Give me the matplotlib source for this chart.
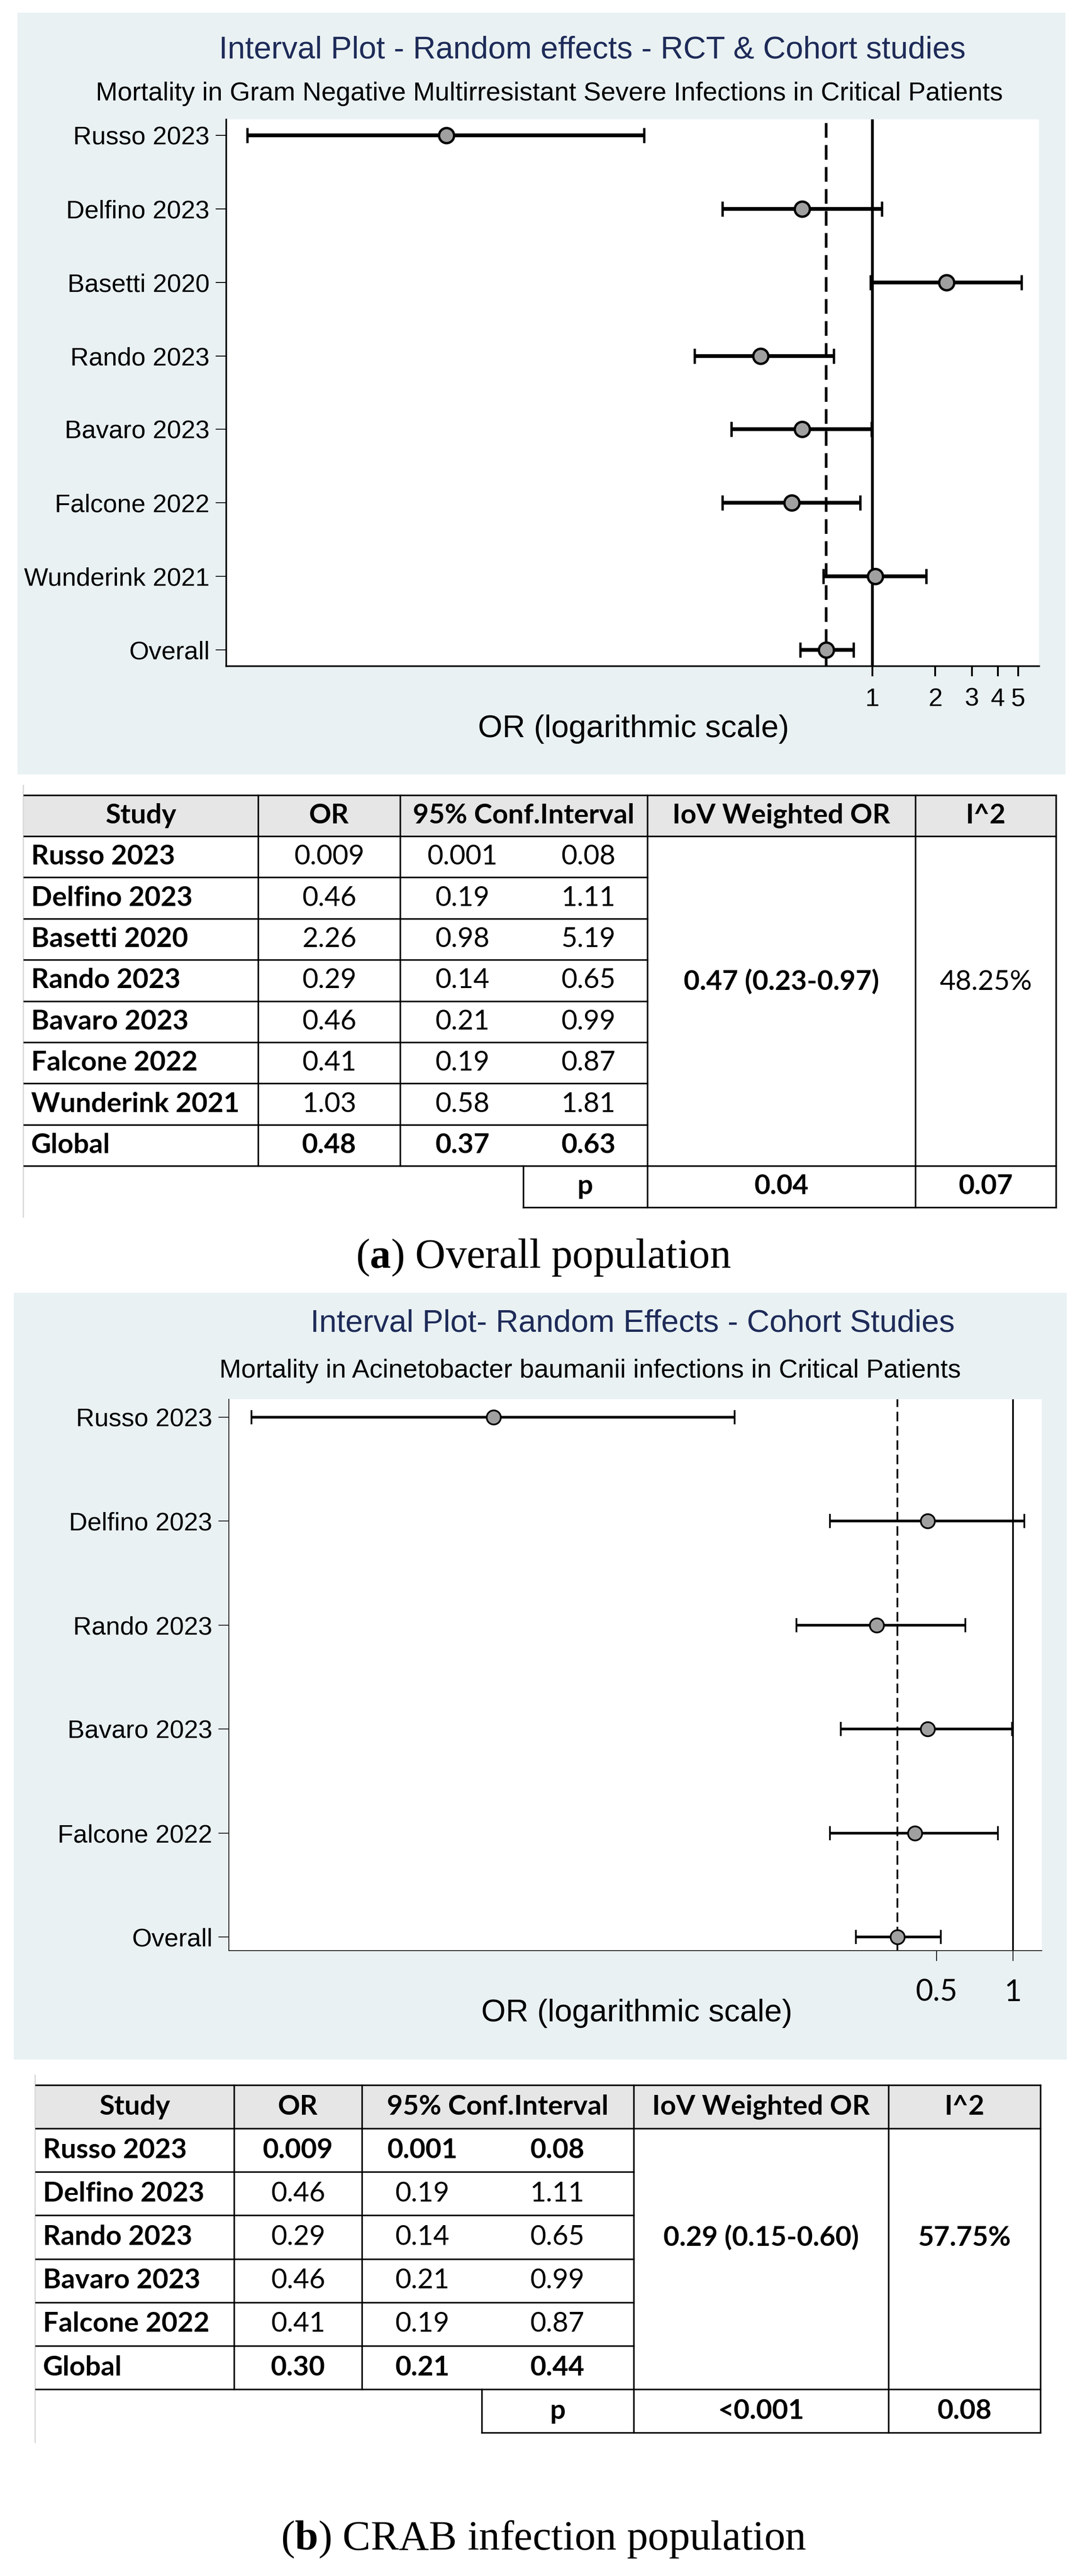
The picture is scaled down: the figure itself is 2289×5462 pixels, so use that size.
import numpy as np
import matplotlib
matplotlib.use('Agg')
import matplotlib.pyplot as plt
from matplotlib.patches import Rectangle
from matplotlib.ticker import NullLocator

plt.rcParams['mathtext.fontset'] = 'custom'
plt.rcParams['mathtext.rm'] = 'Liberation Serif'
plt.rcParams['mathtext.bf'] = 'Liberation Serif:bold'

# ---------------- data ----------------
# Panel (a) interval plot
labels_a = ['Russo 2023', 'Delfino 2023', 'Basetti 2020', 'Rando 2023',
            'Bavaro 2023', 'Falcone 2022', 'Wunderink 2021', 'Overall']
or_a = [0.009, 0.46, 2.26, 0.29, 0.46, 0.41, 1.03, 0.60]
lo_a = [0.001, 0.19, 0.98, 0.14, 0.21, 0.19, 0.58, 0.45]
hi_a = [0.08, 1.11, 5.19, 0.65, 0.99, 0.87, 1.81, 0.81]
xticks_a = [1, 2, 3, 4, 5]
xticklabels_a = ['1', '2', '3', '4', '5']

# Panel (b) interval plot
labels_b = ['Russo 2023', 'Delfino 2023', 'Rando 2023', 'Bavaro 2023',
            'Falcone 2022', 'Overall']
or_b = [0.009, 0.46, 0.29, 0.46, 0.41, 0.35]
lo_b = [0.001, 0.19, 0.14, 0.21, 0.19, 0.24]
hi_b = [0.08, 1.11, 0.65, 0.99, 0.87, 0.52]
xticks_b = [0.5, 1]
xticklabels_b = ['0.5', '1']

# Table (a)
tab_header = ['Study', 'OR', '95% Conf.Interval', 'IoV Weighted OR', 'I^2']
tab_a_study = ['Russo 2023', 'Delfino 2023', 'Basetti 2020', 'Rando 2023',
               'Bavaro 2023', 'Falcone 2022', 'Wunderink 2021', 'Global']
tab_a_or = ['0.009', '0.46', '2.26', '0.29', '0.46', '0.41', '1.03', '0.48']
tab_a_lo = ['0.001', '0.19', '0.98', '0.14', '0.21', '0.19', '0.58', '0.37']
tab_a_hi = ['0.08', '1.11', '5.19', '0.65', '0.99', '0.87', '1.81', '0.63']
tab_a_bold = [False] * 7 + [True]
tab_a_iov = '0.47 (0.23-0.97)'
tab_a_i2 = '48.25%'
tab_a_p = ['p', '0.04', '0.07']

# Table (b)
tab_b_study = ['Russo 2023', 'Delfino 2023', 'Rando 2023', 'Bavaro 2023',
               'Falcone 2022', 'Global']
tab_b_or = ['0.009', '0.46', '0.29', '0.46', '0.41', '0.30']
tab_b_lo = ['0.001', '0.19', '0.14', '0.21', '0.19', '0.21']
tab_b_hi = ['0.08', '1.11', '0.65', '0.99', '0.87', '0.44']
tab_b_bold = [True, False, False, False, False, True]
tab_b_iov = '0.29 (0.15-0.60)'
tab_b_i2 = '57.75%'
tab_b_p = ['p', '<0.001', '0.08']

# ---------------- figure ----------------
W, H = 2289, 5462
fig = plt.figure(figsize=(W / 100, H / 100), dpi=100)
fig.patch.set_facecolor('white')
ov = fig.add_axes([0, 0, 1, 1], zorder=-1)
ov.set_xlim(0, W)
ov.set_ylim(H, 0)
ov.axis('off')

BG = '#e9f1f3'
TITLE_C = '#1e2b58'
SANS = 'Liberation Sans'
TAB = 'Lato'
SERIF = 'Liberation Serif'


def pbox(x0, y0, x1, y1):
    return [x0 / W, 1 - y1 / H, (x1 - x0) / W, (y1 - y0) / H]


def forest(box, labels, ors, los, his, xlim, top_m, bot_m, xt, xtl,
           spine_lw, spine_c, ref_lw, dash_lw, ebar_lw, ms, mew, cap,
           tick_font, tick_fs, xpad, xtick_w):
    ax = fig.add_axes(pbox(*box), zorder=1)
    ax.set_facecolor('white')
    n = len(labels)
    ys = np.arange(n)
    ors = np.array(ors)
    err = [ors - np.array(los), np.array(his) - ors]
    ax.set_xscale('log')
    ax.axvline(1, color='black', lw=ref_lw, zorder=1)
    ax.axvline(ors[-1], color='black', lw=dash_lw, ls=(0, (5.6, 2.8)),
               zorder=1)
    ax.errorbar(ors, ys, xerr=err, fmt='o', ms=ms, mfc='#a0a0a0',
                mec='black', mew=mew, ecolor='black', elinewidth=ebar_lw,
                capsize=cap, capthick=ebar_lw, zorder=3)
    ax.set_xlim(*xlim)
    ax.set_ylim(n - 1 + bot_m, -top_m)
    for s in ['top', 'right']:
        ax.spines[s].set_visible(False)
    for s in ['left', 'bottom']:
        ax.spines[s].set_linewidth(spine_lw)
        ax.spines[s].set_color(spine_c)
    ax.set_yticks(ys)
    ax.set_yticklabels(labels, fontsize=39, family=SANS)
    ax.tick_params(axis='y', length=16, width=1.4, pad=9, color=spine_c)
    ax.xaxis.set_minor_locator(NullLocator())
    ax.set_xticks(xt)
    ax.set_xticklabels(xtl, fontsize=tick_fs, family=tick_font)
    ax.tick_params(axis='x', length=16, width=xtick_w, pad=xpad, color=spine_c)
    return ax


# ---- panel (a) ----
ov.add_patch(Rectangle((37, 27), 2258 - 37, 1642 - 27, facecolor=BG,
                       edgecolor='none', zorder=0))
ov.text(1255, 106, 'Interval Plot - Random effects - RCT & Cohort studies',
        ha='center', va='center', fontsize=48, color=TITLE_C, family=SANS)
ov.text(1164, 199, 'Mortality in Gram Negative Multirresistant Severe '
        'Infections in Critical Patients', ha='center', va='center',
        fontsize=40, color='black', family=SANS)
forest((479, 253, 2202, 1412), labels_a, or_a, lo_a, hi_a,
       (0.00079, 6.29), 0.215, 0.215, xticks_a, xticklabels_a,
       2.5, 'black', 4.3, 4.0, 5.8, 23, 3.6, 11.5, SANS, 39, 17, 2.8)
ov.text(1343, 1546, 'OR (logarithmic scale)', ha='center', va='center',
        fontsize=48, family=SANS)

# ---- panel (b) ----
ov.add_patch(Rectangle((29, 2741), 2261 - 29, 4367 - 2741, facecolor=BG,
                       edgecolor='none', zorder=0))
ov.text(1341, 2806, 'Interval Plot- Random Effects - Cohort Studies',
        ha='center', va='center', fontsize=48, color=TITLE_C, family=SANS)
ov.text(1251, 2907, 'Mortality in Acinetobacter baumanii infections in '
        'Critical Patients', ha='center', va='center', fontsize=40,
        color='black', family=SANS)
forest((485, 2967, 2208, 4136), labels_b, or_b, lo_b, hi_b,
       (0.000814, 1.298), 0.172, 0.13, xticks_b, xticklabels_b,
       1.4, '#222222', 2.6, 2.6, 4.0, 21.5, 2.6, 10.8, TAB, 46, 27, 1.5)
ov.text(1350, 4269, 'OR (logarithmic scale)', ha='center', va='center',
        fontsize=48, family=SANS)


# ---------------- tables ----------------
def table(xc, x_lo, x_hi, top, hb, rh, p_left, study, ors, los, his, bold,
          iov, i2, iov_bold, i2_bold, y_merge, pvals, fs):
    n = len(study)
    left, c1, c2, c3, c4, right = xc
    rows = [hb + rh * k for k in range(n + 1)]
    last = rows[-1]
    pbot = last + rh
    lw = 2.4
    ov.add_patch(Rectangle((left, top), right - left, hb - top,
                           facecolor='#e6e6e6', edgecolor='none', zorder=1))
    # faint page edge
    ov.plot([left - 2, left - 2], [top - 21, pbot + 20], color='#d8d8d8',
            lw=2, zorder=1)

    def hl(x0, x1, y):
        ov.plot([x0, x1], [y, y], color='black', lw=lw,
                solid_capstyle='projecting', zorder=2)

    def vl(x, y0, y1):
        ov.plot([x, x], [y0, y1], color='black', lw=lw,
                solid_capstyle='projecting', zorder=2)

    hl(left, right, top)
    hl(left, right, hb)
    for y in rows[1:-1]:
        hl(left, c3, y)
    hl(left, right, last)
    hl(p_left, right, pbot)
    vl(c1, top, last)
    vl(c2, top, last)
    for x in (c3, c4, right):
        vl(x, top, pbot)
    vl(p_left, last, pbot)

    kw = dict(ha='center', va='center', fontsize=fs, family=TAB, zorder=3)
    yh = (top + hb) / 2
    centers = [(left + c1) / 2, (c1 + c2) / 2, (c2 + c3) / 2,
               (c3 + c4) / 2, (c4 + right) / 2]
    for cx, t in zip(centers, tab_header):
        ov.text(cx, yh, t, fontweight='bold', **kw)
    for i in range(n):
        y = (rows[i] + rows[i + 1]) / 2
        w = 'bold' if bold[i] else 'normal'
        ov.text(left + 15, y, study[i], ha='left', va='center', fontsize=fs,
                family=TAB, fontweight='bold', zorder=3)
        ov.text(centers[1], y, ors[i], fontweight=w, **kw)
        ov.text(x_lo, y, los[i], fontweight=w, **kw)
        ov.text(x_hi, y, his[i], fontweight=w, **kw)
    ov.text(centers[3], y_merge, iov,
            fontweight='bold' if iov_bold else 'normal', **kw)
    ov.text(centers[4], y_merge, i2,
            fontweight='bold' if i2_bold else 'normal', **kw)
    yp = (last + pbot) / 2
    ov.text((p_left + c3) / 2, yp, pvals[0], fontweight='bold', **kw)
    ov.text(centers[3], yp, pvals[1], fontweight='bold', **kw)
    ov.text(centers[4], yp, pvals[2], fontweight='bold', **kw)


table((51, 547, 848, 1372, 1940, 2238), 980, 1247, 1686, 1773, 87.4, 1109,
      tab_a_study, tab_a_or, tab_a_lo, tab_a_hi, tab_a_bold,
      tab_a_iov, tab_a_i2, True, False, 2082, tab_a_p, 42)

table((76, 496, 767, 1343, 1883, 2205), 895, 1181, 4421, 4513, 92.2, 1021,
      tab_b_study, tab_b_or, tab_b_lo, tab_b_hi, tab_b_bold,
      tab_b_iov, tab_b_i2, True, True, 4745, tab_b_p, 42)

# ---------------- captions ----------------
ov.text(1152, 2666, r'($\mathbf{a}$) Overall population', ha='center',
        va='center', fontsize=64, family=SERIF)
ov.text(1152, 5384, r'($\mathbf{b}$) CRAB infection population', ha='center',
        va='center', fontsize=64, family=SERIF)

fig.savefig('out.png', dpi=100, facecolor='white')
